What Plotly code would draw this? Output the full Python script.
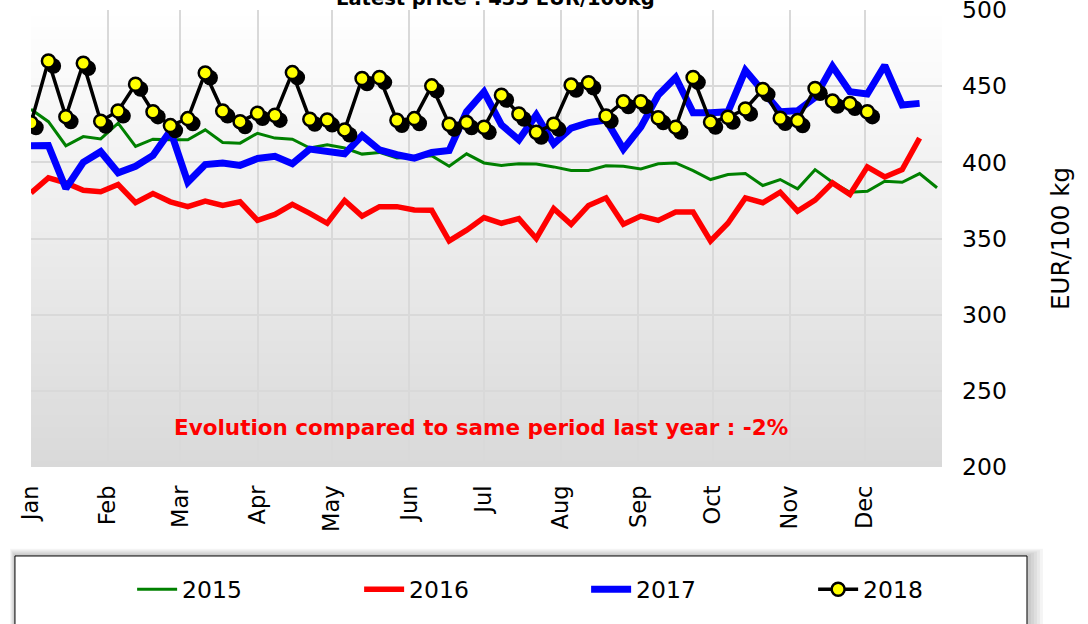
import plotly.graph_objects as go

# ---------------- data ----------------
months = ["Jan", "Feb", "Mar", "Apr", "May", "Jun", "Jul", "Aug", "Sep", "Oct", "Nov", "Dec"]
month_start_day = [0, 31, 60, 91, 121, 152, 182, 213, 244, 274, 305, 335]

y2015 = [434.8, 426.7, 410.9, 416.9, 415.4, 425.7, 410.4, 415.2, 414.8, 414.8,
         421.3, 413.0, 412.6, 419.1, 415.9, 415.2, 409.4, 411.5, 409.4, 405.4,
         406.5, 402.8, 403.5, 404.3, 397.4, 405.6, 399.6, 398.0, 399.1, 398.9,
         397.0, 394.7, 394.7, 397.8, 397.4, 395.7, 399.1, 399.6, 394.6, 388.7,
         392.0, 392.6, 384.8, 388.7, 382.6, 395.2, 386.9, 380.4, 381.0, 387.6,
         386.9, 392.6, 383.3]

y2016 = [380.0, 389.8, 386.5, 381.7, 380.7, 385.4, 373.5, 379.5, 374.1, 370.9,
         374.5, 371.7, 374.1, 361.9, 365.8, 372.4, 366.5, 360.0, 375.0, 364.7,
         370.9, 370.9, 368.7, 368.5, 348.4, 355.5, 363.7, 360.0, 363.0, 350.0,
         369.6, 359.3, 371.7, 376.7, 359.3, 364.7, 361.9, 367.4, 367.4, 348.4,
         360.0, 376.7, 373.5, 380.4, 368.0, 375.2, 386.5, 378.9, 397.0, 390.4,
         395.2, 415.9]

y2017 = [410.9, 411.1, 382.8, 400.0, 407.0, 393.1, 397.4, 404.5, 420.8, 386.9,
         398.5, 399.6, 398.0, 402.5, 403.9, 399.1, 408.7, 406.7, 405.6, 417.6,
         408.2, 405.0, 402.8, 406.5, 407.8, 433.2, 446.3, 424.6, 414.8, 431.1,
         412.2, 422.4, 426.1, 427.8, 408.7, 423.1, 444.1, 455.7, 432.6, 432.6,
         433.2, 460.4, 447.4, 433.2, 433.9, 442.6, 463.0, 446.3, 444.8, 463.7,
         437.6, 438.7]

y2018 = [426.0, 466.5, 430.0, 465.0, 427.0, 433.7, 451.3, 433.2, 424.1, 428.7,
         458.7, 433.7, 426.7, 432.2, 430.9, 458.9, 428.3, 427.8, 421.3, 455.0,
         455.7, 427.6, 428.7, 450.2, 425.0, 426.1, 423.0, 444.1, 431.7, 419.8,
         425.0, 450.7, 452.2, 430.4, 439.8, 439.8, 429.3, 423.1, 455.7, 426.4,
         429.6, 435.0, 447.8, 428.9, 427.4, 448.5, 440.2, 438.7, 433.2]

title_text = "Latest price : 433 EUR/100kg"
note_text = "Evolution compared to same period last year : -2%"
y_title = "EUR/100 kg"


def week_days(values):
    return [7 * i for i in range(len(values))]


FONT = "DejaVu Sans, Verdana, sans-serif"

fig = go.Figure()

fig.add_trace(go.Scatter(x=week_days(y2015), y=y2015, name="2015", mode="lines",
                         line=dict(color="#008000", width=3)))
fig.add_trace(go.Scatter(x=week_days(y2016), y=y2016, name="2016", mode="lines",
                         line=dict(color="#ff0000", width=5.5)))
fig.add_trace(go.Scatter(x=week_days(y2017), y=y2017, name="2017", mode="lines",
                         line=dict(color="#0000ff", width=7)))
# marker shadow for 2018
fig.add_trace(go.Scatter(x=[d + 2.0 for d in week_days(y2018)], y=[v - 3.2 for v in y2018],
                         mode="markers", showlegend=False, hoverinfo="skip",
                         marker=dict(color="#000000", size=15.5, line=dict(width=0))))
fig.add_trace(go.Scatter(x=week_days(y2018), y=y2018, name="2018", mode="lines+markers",
                         line=dict(color="#000000", width=3.5),
                         marker=dict(color="#ffff00", size=13, line=dict(color="#000000", width=2.5))))

shapes = []
# gradient plot background
n_bands = 80
for i in range(n_bands):
    t = (i + 0.5) / n_bands
    c = int(round(217 + (255 - 217) * t))
    shapes.append(dict(type="rect", xref="paper", yref="paper",
                       x0=0, x1=1, y0=i / n_bands, y1=(i + 1) / n_bands + 0.002,
                       fillcolor=f"rgb({c},{c},{c})", line=dict(width=0), layer="below"))

# legend box shadow + box
lx0, lx1, ly0, ly1 = -0.0176, 1.0933, -0.1947, -0.40
for k in range(5):
    px = 16 - 3 * k
    shapes.append(dict(type="rect", xref="paper", yref="paper",
                       x0=lx0 - (px * 0.3) / 911, x1=lx1 + px / 911,
                       y0=ly0 + (px * 0.45) / 457, y1=ly1,
                       fillcolor="rgba(0,0,0,0.045)", line=dict(width=0), layer="above"))
shapes.append(dict(type="rect", xref="paper", yref="paper",
                   x0=lx0, x1=lx1, y0=ly0, y1=ly1,
                   fillcolor="#ffffff", line=dict(color="#000000", width=1), layer="above"))

fig.update_layout(
    width=1088, height=624,
    margin=dict(l=31, r=146, t=10, b=157, autoexpand=False),
    paper_bgcolor="#ffffff", plot_bgcolor="#ffffff",
    font=dict(family=FONT, color="#000000", size=20),
    showlegend=True,
    legend=dict(orientation="h", x=0.111, xanchor="left", y=-0.268, yanchor="middle",
                font=dict(family=FONT, size=23.5, color="#000000"),
                bgcolor="rgba(0,0,0,0)", borderwidth=0,
                entrywidth=172, entrywidthmode="pixels", itemwidth=40,
                traceorder="normal"),
    shapes=shapes,
    xaxis=dict(range=[0, 366], tickmode="array", tickvals=month_start_day, ticktext=months,
               tickangle=-90, showgrid=True, gridcolor="#d9d9d9", gridwidth=2,
               zeroline=False, showline=False, ticks="", ticklabelstandoff=13,
               automargin=False, ticklabeloverflow="allow",
               tickfont=dict(family=FONT, size=22.5, color="#000000"), fixedrange=True),
    yaxis=dict(range=[200, 500], dtick=50, side="right", showgrid=True, gridcolor="#d9d9d9",
               gridwidth=2, zeroline=False, showline=False, ticks="", ticklabelstandoff=19,
               automargin=False, ticklabeloverflow="allow",
               tickfont=dict(family=FONT, size=23.5, color="#000000"),
               title=dict(text=y_title, font=dict(family=FONT, size=24.5, color="#000000"), standoff=45)),
    annotations=[
        dict(text="<b>" + title_text + "</b>", xref="paper", yref="paper", x=0.5104, y=1.025,
             xanchor="center", yanchor="middle", showarrow=False,
             font=dict(family=FONT, size=19.5, color="#000000")),
        dict(text="<b>" + note_text + "</b>", xref="paper", yref="paper", x=0.494, y=0.0875,
             xanchor="center", yanchor="middle", showarrow=False,
             font=dict(family=FONT, size=21.5, color="#ff0000")),
    ],
)

# remove the browser's default 8px body margin so the figure fills the window exactly
fig.write_html("out.html", config={"displayModeBar": False},
               post_script="document.body.style.margin='0';")
